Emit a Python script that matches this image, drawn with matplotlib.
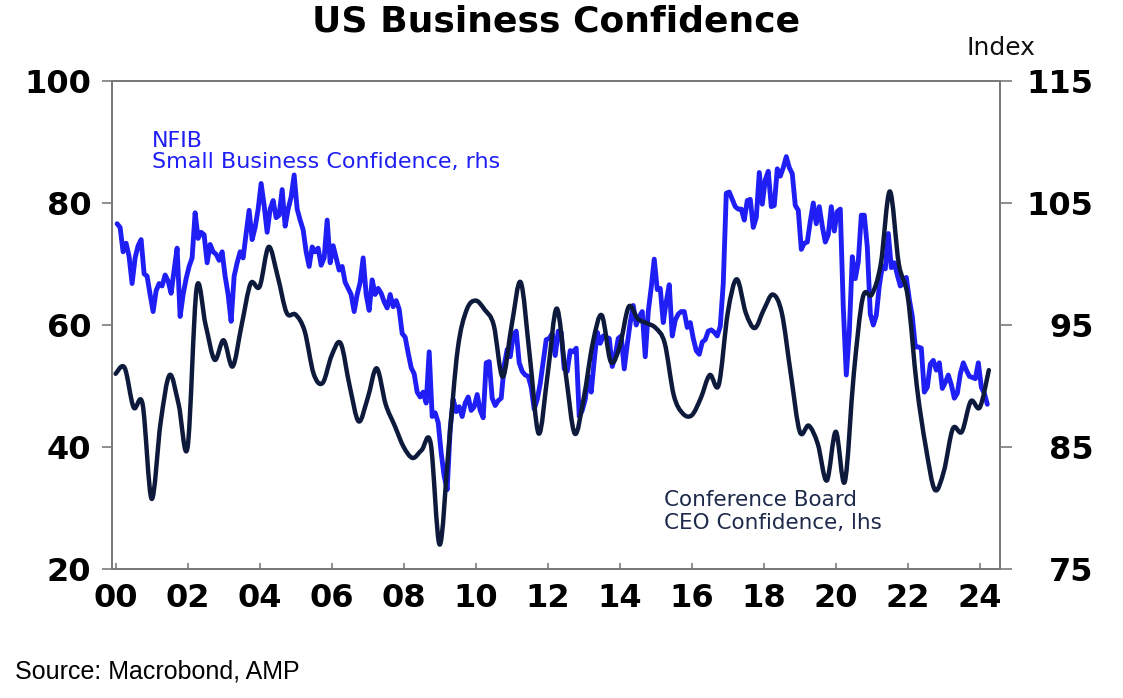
import matplotlib
matplotlib.use("Agg")
import matplotlib.pyplot as plt
from matplotlib.path import Path
from matplotlib.patches import PathPatch
import numpy as np

# ---------------- data ----------------
# NFIB Small Business Optimism index, monthly, Jan 2000 - Mar 2024 (rhs)
nfib_values = [
    103.3, 103.0, 101.0, 101.7, 100.6, 98.4, 100.5, 101.5, 102.0, 99.2, 99.0, 97.5,   # 2000
    96.1, 97.8, 98.4, 98.2, 99.1, 98.6, 97.6, 99.5, 101.3, 95.7, 97.5, 98.8,          # 2001
    99.8, 100.5, 104.2, 102.1, 102.6, 102.4, 100.1, 101.6, 101.0, 100.8, 100.3, 101.0,# 2002
    99.0, 97.5, 95.3, 99.0, 100.1, 101.0, 100.5, 102.5, 104.4, 102.0, 103.0, 104.5,   # 2003
    106.6, 104.8, 102.6, 104.5, 105.2, 103.8, 104.0, 106.1, 103.1, 104.5, 105.5, 107.3,# 2004
    104.5, 103.6, 102.8, 101.0, 99.8, 101.4, 101.0, 101.3, 99.9, 100.5, 103.6, 100.1, # 2005
    101.5, 100.5, 99.5, 99.8, 98.5, 98.0, 97.5, 96.1, 97.5, 98.5, 100.5, 97.5,        # 2006
    96.2, 98.7, 97.5, 98.0, 97.6, 96.9, 96.4, 97.5, 96.5, 97.0, 96.3, 94.3,           # 2007
    94.0, 92.7, 91.5, 91.0, 89.5, 89.1, 89.5, 88.6, 92.8, 87.5, 87.8, 87.0,           # 2008
    84.5, 82.6, 81.5, 86.5, 88.9, 87.9, 88.3, 87.5, 88.6, 89.1, 88.0, 88.3,           # 2009
    89.3, 88.0, 87.4, 91.9, 92.0, 89.0, 88.4, 88.8, 89.0, 91.7, 93.0, 92.4,           # 2010
    94.1, 94.5, 91.9, 91.2, 90.9, 90.8, 89.9, 88.1, 88.9, 90.2, 92.0, 93.8,           # 2011
    93.9, 94.3, 92.5, 94.5, 94.4, 91.4, 91.2, 92.9, 92.8, 93.1, 87.5, 88.0,           # 2012
    88.9, 90.8, 89.5, 92.1, 94.4, 93.5, 94.1, 94.0, 93.9, 91.6, 92.5, 93.9,           # 2013
    94.1, 91.4, 93.4, 95.2, 96.6, 95.0, 95.7, 96.1, 92.4, 96.1, 98.1, 100.4,          # 2014
    97.9, 98.0, 95.2, 96.9, 98.3, 94.1, 95.4, 95.9, 96.1, 96.1, 94.8, 95.2,           # 2015
    93.9, 92.9, 92.6, 93.6, 93.8, 94.5, 94.6, 94.4, 94.1, 94.9, 98.4, 105.8,          # 2016
    105.9, 105.3, 104.7, 104.5, 104.5, 103.6, 105.2, 105.3, 103.0, 103.8, 107.5, 104.9,# 2017
    106.9, 107.6, 104.7, 104.8, 107.8, 107.2, 107.9, 108.8, 107.9, 107.4, 104.8, 104.4,# 2018
    101.2, 101.7, 101.8, 103.5, 105.0, 103.3, 104.7, 103.1, 101.8, 102.4, 104.7, 102.7,# 2019
    104.3, 104.5, 96.4, 90.9, 94.4, 100.6, 98.8, 100.2, 104.0, 104.0, 101.4, 95.9,    # 2020
    95.0, 95.8, 98.2, 99.8, 99.6, 102.5, 99.7, 100.1, 99.1, 98.2, 98.4, 98.9,         # 2021
    97.1, 95.7, 93.2, 93.2, 93.1, 89.5, 89.9, 91.8, 92.1, 91.3, 91.9, 89.8,           # 2022
    90.3, 90.9, 90.1, 89.0, 89.4, 91.0, 91.9, 91.3, 90.8, 90.7, 90.6, 91.9,           # 2023
    89.9, 89.4, 88.5,                                                                 # 2024
]
nfib_start_year = 2000

# Conference Board CEO Confidence, quarterly, 2000Q1 - 2024Q2 (lhs)
ceo_values = [
    52.0, 53.0, 46.5, 47.0,   # 2000
    31.5, 44.0, 51.8, 47.0,   # 2001
    40.0, 66.0, 60.0, 54.3,   # 2002
    57.5, 53.2, 60.0, 66.8,   # 2003
    66.3, 72.8, 68.0, 62.0,   # 2004
    61.7, 59.0, 52.0, 50.5,   # 2005
    55.0, 57.0, 50.0, 44.2,   # 2006
    48.0, 52.9, 47.0, 43.5,   # 2007
    40.0, 38.2, 39.5, 40.6,   # 2008
    24.0, 40.0, 56.0, 62.5,   # 2009
    64.0, 62.5, 60.0, 51.5,   # 2010
    60.0, 67.0, 55.0, 42.2,   # 2011
    52.0, 62.7, 52.0, 42.2,   # 2012
    48.0, 57.0, 61.6, 54.0,   # 2013
    56.5, 63.0, 61.0, 60.3,   # 2014
    59.5, 57.0, 48.5, 45.5,   # 2015
    45.2, 48.0, 51.8, 50.2,   # 2016
    62.0, 67.5, 62.0, 59.5,   # 2017
    62.5, 65.0, 62.0, 52.0,   # 2018
    42.5, 43.5, 40.5, 34.5,   # 2019
    42.5, 34.3, 52.0, 64.5,   # 2020
    65.0, 70.0, 81.9, 70.0,   # 2021
    64.6, 50.0, 40.0, 33.0,   # 2022
    36.0, 43.0, 42.5, 47.5,   # 2023
    46.5, 52.6,               # 2024
]
ceo_start_year = 2000

x_tick_years = list(range(2000, 2025, 2))
x_tick_labels = [f"{y % 100:02d}" for y in x_tick_years]
left_ticks = [20, 40, 60, 80, 100]
right_ticks = [75, 85, 95, 105, 115]

title = "US Business Confidence"
nfib_label = ["NFIB", "Small Business Confidence, rhs"]
ceo_label = ["Conference Board", "CEO Confidence, lhs"]
source = "Source: Macrobond, AMP"

# ---------------- styling ----------------
BLUE = "#1f1ff5"
NAVY = "#0d1a3b"
NAVY_TXT = "#1e2a4c"
GREY = "#7a7a7a"
W, H = 1123, 698

plt.rcParams["font.family"] = ["DejaVu Sans"]

fig = plt.figure(figsize=(W / 100, H / 100), dpi=100)
fig.patch.set_facecolor("white")

L, R, T, B = 112, 1000, 81, 569
ax = fig.add_axes([L / W, 1 - B / H, (R - L) / W, (B - T) / H])
ax2 = ax.twinx()

nfib_t = nfib_start_year + (np.arange(len(nfib_values)) + 0.5) / 12.0
ceo_t = ceo_start_year + np.arange(len(ceo_values)) * 0.25

ax2.plot(nfib_t, nfib_values, color=BLUE, lw=3.5, solid_joinstyle="round",
         solid_capstyle="round")


def smooth_path(x, y):
    """Smoothed (Catmull-Rom style Bezier) path through the data points."""
    pts = np.column_stack([x, y]).astype(float)
    verts = [pts[0]]
    codes = [Path.MOVETO]
    n = len(pts)
    for i in range(n - 1):
        p0 = pts[i - 1] if i > 0 else pts[i]
        p1 = pts[i]
        p2 = pts[i + 1]
        p3 = pts[i + 2] if i + 2 < n else pts[i + 1]
        verts += [p1 + (p2 - p0) / 6.0, p2 - (p3 - p1) / 6.0, p2]
        codes += [Path.CURVE4] * 3
    return Path(np.array(verts), codes)


ceo_patch = PathPatch(smooth_path(ceo_t, ceo_values), fill=False,
                      edgecolor=NAVY, lw=3.2, joinstyle="round",
                      capstyle="round")
ax.add_patch(ceo_patch)

ax.set_zorder(ax2.get_zorder() + 1)
ax.patch.set_visible(False)

ax.set_xlim(1999.9, 2024.56)
ax.set_ylim(20, 100)
ax2.set_ylim(75, 115)

ax.set_xticks(x_tick_years)
ax.set_xticklabels(x_tick_labels)
ax.set_yticks(left_ticks)
ax.set_yticklabels([str(v) for v in left_ticks])
ax2.set_yticks(right_ticks)
ax2.set_yticklabels([str(v) for v in right_ticks])

for a in (ax, ax2):
    for s in a.spines.values():
        s.set_color(GREY)
        s.set_linewidth(1.4)

ax.tick_params(axis="x", direction="in", length=4, width=1.2, color=GREY,
               pad=10, labelsize=23)
ax.tick_params(axis="y", direction="out", length=7, width=1.2, color=GREY,
               pad=8, labelsize=23)
ax2.tick_params(axis="y", direction="out", length=8.5, width=1.2, color=GREY,
                pad=59, labelsize=23)
for lab in ax.get_xticklabels() + ax.get_yticklabels() + ax2.get_yticklabels():
    lab.set_fontweight("bold")
for lab in ax2.get_yticklabels():
    lab.set_horizontalalignment("right")


def fx(px):
    return px / W


def fy(py):
    return 1 - py / H


fig.text(fx(556), fy(21), title, ha="center", va="center", fontsize=26,
         fontweight="bold", color="black")
fig.text(fx(1001), fy(48), "Index", ha="center", va="center", fontsize=18,
         color="#111111")
fig.text(fx(152), fy(141), nfib_label[0], ha="left", va="center", fontsize=16,
         color=BLUE)
fig.text(fx(152), fy(162), nfib_label[1], ha="left", va="center", fontsize=16,
         color=BLUE)
fig.text(fx(664), fy(500), ceo_label[0], ha="left", va="center", fontsize=15.5,
         color=NAVY_TXT)
fig.text(fx(664), fy(523), ceo_label[1], ha="left", va="center", fontsize=15.5,
         color=NAVY_TXT)
fig.text(fx(15), fy(672), source, ha="left", va="center", fontsize=18,
         family=["Liberation Sans", "DejaVu Sans"], color="black")

fig.savefig("out.png", dpi=100)
